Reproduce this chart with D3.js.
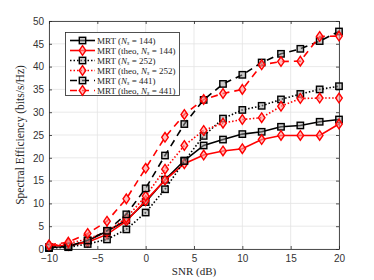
<!DOCTYPE html>
<html>
<head>
<meta charset="utf-8">
<script src="https://cdn.jsdelivr.net/npm/d3@7"></script>
<style>
  body { margin: 0; background: #fff; }
  svg { display: block; }
</style>
</head>
<body>
<svg id="chart"></svg>
<script>
var width = 374, height = 280;

var snr = [-10, -8, -6, -4, -2, 0, 2, 4, 6, 8, 10, 12, 14, 16, 18, 20];
var mrt144 = [0.4, 0.5, 1.8, 3.9, 6.3, 10.3, 15.2, 19.4, 22.7, 24.0, 25.2, 25.7, 26.8, 27.1, 27.9, 28.4];
var theo144 = [0.7, 0.8, 1.5, 3.2, 6.1, 10.6, 15.1, 18.7, 20.6, 21.5, 22.0, 24.0, 24.9, 24.9, 24.9, 27.4];
var mrt252 = [0.2, 0.4, 1.1, 2.1, 4.3, 8.0, 13.1, 19.3, 24.8, 28.6, 30.5, 31.4, 32.8, 34.0, 35.0, 35.7];
var theo252 = [0.7, 1.2, 2.2, 3.8, 6.8, 11.6, 17.5, 22.7, 26.0, 27.6, 28.4, 28.8, 31.3, 33.0, 33.1, 33.1];
var mrt441 = [0.3, 0.6, 1.9, 4.0, 7.6, 13.3, 20.5, 27.4, 32.7, 36.2, 38.2, 40.9, 42.8, 43.9, 45.6, 47.7];
var theo441 = [0.9, 1.5, 3.4, 6.1, 11.0, 17.7, 24.5, 29.5, 32.8, 34.1, 35.0, 40.4, 41.1, 41.2, 46.6, 46.7];
var xTicks = [-10, -5, 0, 5, 10, 15, 20];
var yTicks = [0, 5, 10, 15, 20, 25, 30, 35, 40, 45, 50];

var series = [
  {name: "MRT ", sub: "144", theo: false, values: mrt144, color: "#000", dash: null, marker: "square"},
  {name: "MRT (theo, ", sub: "144", theo: true, values: theo144, color: "#ff0000", dash: null, marker: "diamond"},
  {name: "MRT ", sub: "252", theo: false, values: mrt252, color: "#000", dash: "1.5,2", marker: "square"},
  {name: "MRT (theo, ", sub: "252", theo: true, values: theo252, color: "#ff0000", dash: "1.5,2", marker: "diamond"},
  {name: "MRT ", sub: "441", theo: false, values: mrt441, color: "#000", dash: "7,5", marker: "square"},
  {name: "MRT (theo, ", sub: "441", theo: true, values: theo441, color: "#ff0000", dash: "7,5", marker: "diamond"}
];

var margin = {left: 49, right: 35, top: 21, bottom: 31};

var svg = d3.select("#chart")
  .attr("width", width)
  .attr("height", height);

var x = d3.scaleLinear()
  .domain([-10, 20])
  .range([margin.left, width - margin.right]);

var y = d3.scaleLinear()
  .domain([0, 50])
  .range([height - margin.bottom, margin.top]);

// grid
svg.append("g")
  .selectAll("line.gx")
  .data(xTicks)
  .enter().append("line")
  .attr("x1", x).attr("x2", x)
  .attr("y1", y(0)).attr("y2", y(50))
  .attr("stroke", "#e3e3e3")
  .attr("stroke-width", 0.8);

svg.append("g")
  .selectAll("line.gy")
  .data(yTicks)
  .enter().append("line")
  .attr("x1", x(-10)).attr("x2", x(20))
  .attr("y1", y).attr("y2", y)
  .attr("stroke", "#e3e3e3")
  .attr("stroke-width", 0.8);

// axes
var xAxis = svg.append("g")
  .attr("transform", "translate(0," + y(0) + ")")
  .call(d3.axisBottom(x).tickValues(xTicks).tickSize(-3).tickPadding(6).tickSizeOuter(0));
var xAxisTop = svg.append("g")
  .attr("transform", "translate(0," + y(50) + ")")
  .call(d3.axisTop(x).tickValues(xTicks).tickSize(-3).tickFormat("").tickSizeOuter(0));
var yAxis = svg.append("g")
  .attr("transform", "translate(" + x(-10) + ",0)")
  .call(d3.axisLeft(y).tickValues(yTicks).tickSize(-3).tickPadding(5).tickSizeOuter(0));
var yAxisRight = svg.append("g")
  .attr("transform", "translate(" + x(20) + ",0)")
  .call(d3.axisRight(y).tickValues(yTicks).tickSize(-3).tickFormat("").tickSizeOuter(0));

[xAxis, xAxisTop, yAxis, yAxisRight].forEach(function (a) {
  a.select(".domain").attr("stroke", "#262626").attr("stroke-width", 0.8);
  a.selectAll(".tick line").attr("stroke", "#262626").attr("stroke-width", 0.8);
  a.selectAll("text")
    .attr("fill", "#333")
    .style("font-family", "'Liberation Sans', Arial, sans-serif")
    .style("font-size", "10px");
});

// axis labels
svg.append("text")
  .attr("x", x(5))
  .attr("y", height - 5)
  .attr("text-anchor", "middle")
  .attr("fill", "#262626")
  .style("font-family", "'Liberation Serif', serif")
  .style("font-size", "11px")
  .text("SNR (dB)");

svg.append("text")
  .attr("transform", "translate(24," + y(25) + ") rotate(-90)")
  .attr("text-anchor", "middle")
  .attr("fill", "#262626")
  .style("font-family", "'Liberation Serif', serif")
  .style("font-size", "11.5px")
  .text("Spectral Efficiency (bits/s/Hz)");

function drawMarker(g, s, cx, cy) {
  if (s.marker === "square") {
    g.append("rect")
      .attr("x", cx - 3.2).attr("y", cy - 3.2)
      .attr("width", 6.4).attr("height", 6.4)
      .attr("fill", "#9a9a9a")
      .attr("fill-opacity", 0.5)
      .attr("stroke", s.color)
      .attr("stroke-width", 1.4);
  } else {
    g.append("path")
      .attr("d", "M" + cx + "," + (cy - 4.8) + "L" + (cx + 3.3) + "," + cy +
        "L" + cx + "," + (cy + 4.8) + "L" + (cx - 3.3) + "," + cy + "Z")
      .attr("fill", "#ff9a9a")
      .attr("fill-opacity", 0.6)
      .attr("stroke", s.color)
      .attr("stroke-width", 1.4);
  }
}

var line = d3.line()
  .x(function (d, i) { return x(snr[i]); })
  .y(function (d) { return y(d); });

var plot = svg.append("g");

series.forEach(function (s) {
  var g = plot.append("g");
  g.append("path")
    .datum(s.values)
    .attr("d", line)
    .attr("fill", "none")
    .attr("stroke", s.color)
    .attr("stroke-width", 1.6)
    .attr("stroke-dasharray", s.dash);
  s.values.forEach(function (v, i) {
    drawMarker(g, s, x(snr[i]), y(v));
  });
});

// legend
var legend = svg.append("g");
legend.append("rect")
  .attr("x", 65.5).attr("y", 32.5)
  .attr("width", 114).attr("height", 63)
  .attr("fill", "#fff")
  .attr("stroke", "#262626")
  .attr("stroke-width", 0.8);

series.forEach(function (s, i) {
  var ly = 40.5 + i * 10;
  legend.append("line")
    .attr("x1", 70).attr("x2", 95)
    .attr("y1", ly).attr("y2", ly)
    .attr("stroke", s.color)
    .attr("stroke-width", 1.6)
    .attr("stroke-dasharray", s.dash);
  drawMarker(legend, s, 82.5, ly);
  var t = legend.append("text")
    .attr("x", 97)
    .attr("y", ly + 3)
    .attr("fill", "#262626")
    .style("font-family", "'Liberation Serif', serif")
    .style("font-size", "9px");
  t.append("tspan").text(s.name + (s.theo ? "" : "("));
  t.append("tspan").style("font-style", "italic").text("N");
  t.append("tspan").attr("dy", 1.5).style("font-size", "6px").style("font-style", "italic").text("s");
  t.append("tspan").attr("dy", -1.5).text(" = " + s.sub + ")");
});
</script>
</body>
</html>
